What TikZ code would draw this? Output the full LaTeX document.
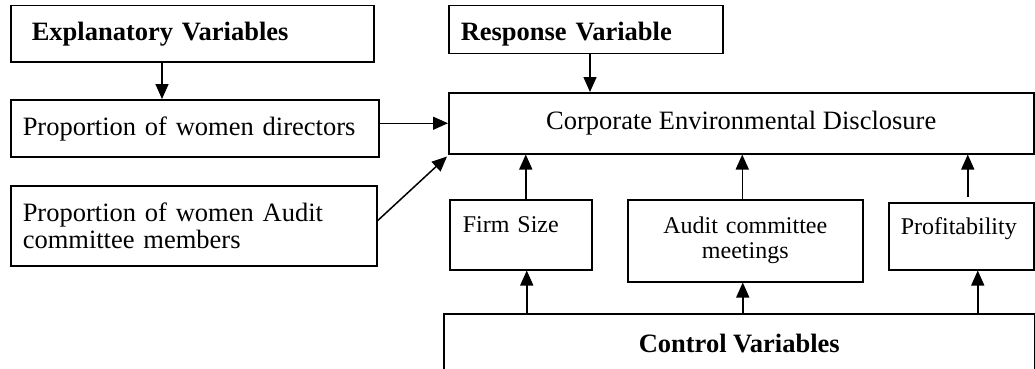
\documentclass[tikz,border=0pt]{standalone}
\usepackage{fontspec}
\setmainfont{Liberation Serif}
\usetikzlibrary{arrows.meta}
\begin{document}
\begin{tikzpicture}[x=1pt,y=-1pt,
  box/.style={draw,line width=1.5pt,inner sep=0pt,anchor=north west},
  big/.style={font=\fontsize{26.5}{27}\selectfont},
  small/.style={font=\fontsize{24}{25}\selectfont},
  arr/.style={line width=1.5pt,-{Triangle[length=15pt,width=13pt]}}]
\useasboundingbox (0,0) rectangle (1035,369);
% top row
\node[box,big,minimum width=363pt,minimum height=56pt,inner xsep=21pt,text width=321pt,align=left,
      text height=19.75pt,text depth=5.75pt,font=\fontsize{26.5}{27}\selectfont\bfseries]
  (expl) at (10,5) {Explanatory Variables};
\node[box,minimum width=274pt,minimum height=48pt,inner xsep=12pt,text width=250pt,align=left,
      text height=28pt,text depth=5.75pt,font=\fontsize{26.5}{27}\selectfont\bfseries]
  (resp) at (448,5) {Response Variable};
% middle
\node[box,big,minimum width=368pt,minimum height=57pt,inner xsep=12pt,text width=344pt,align=left,
      text height=20.75pt,text depth=5.75pt]
  (dir) at (10,99) {Proportion of women directors};
\node[box,big,minimum width=585pt,minimum height=61pt]
  (ced) at (448,92) {Corporate Environmental Disclosure};
\node[box,big,minimum width=366pt,minimum height=80pt,inner xsep=12pt,text width=342pt,align=left]
  (audp) at (10,185) {Proportion of women Audit\\committee members};
% control variables
\node[box,small,minimum width=142pt,minimum height=70pt,inner xsep=13pt,text width=116pt,align=left,
      text height=16pt,text depth=20pt]
  (firm) at (449,199) {Firm Size};
\node[box,small,minimum width=235pt,minimum height=82pt,text width=235pt,align=center]
  (meet) at (627,199) {Audit committee\\meetings};
\node[box,small,minimum width=145pt,minimum height=67pt,inner xsep=12pt,text width=121pt,align=left,
      text height=16pt,text depth=19pt]
  (prof) at (888,202) {Profitability};
\node[box,minimum width=591pt,minimum height=56pt,text height=21pt,text depth=0pt,
      font=\fontsize{26.5}{27}\selectfont\bfseries]
  (ctrl) at (443,313) {Control Variables};
% connectors
\draw[arr] ([xshift=152pt]expl.south west) -- ([xshift=152pt]dir.north west);
\draw[arr] ([xshift=142pt]resp.south west) -- ([xshift=142pt]ced.north west);
\draw[arr] (dir.east |- ced.west) -- (ced.west);
\draw[arr] ([yshift=5pt]audp.east) -- ([xshift=-1pt,yshift=-2pt]ced.south west);
\draw[arr] (firm.north) ++(5,0) coordinate (f1) -- (f1 |- ced.south);
\draw[arr] (meet.north) ++(-3,0) coordinate (m1) -- (m1 |- ced.south);
\draw[arr] (prof.north) ++(6.5,-5) coordinate (p1) -- (p1 |- ced.south);
\draw[arr] (firm.south) ++(6,0) coordinate (f2) (f2 |- ctrl.north) -- (f2);
\draw[arr] (meet.south) ++(-2.5,0) coordinate (m2) (m2 |- ctrl.north) -- (m2);
\draw[arr] (prof.south) ++(16.5,0) coordinate (p2) (p2 |- ctrl.north) -- (p2);
\end{tikzpicture}
\end{document}
